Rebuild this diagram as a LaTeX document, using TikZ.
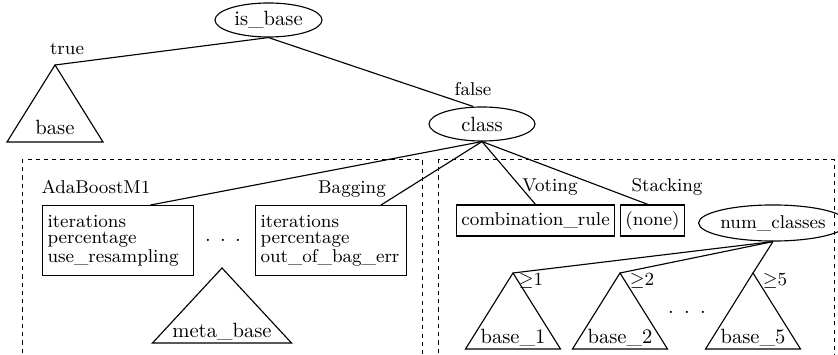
\documentclass[tikz,border=0pt]{standalone}
\usetikzlibrary{shapes.geometric,calc}
\begin{document}
\begin{tikzpicture}[x=0.485pt,y=-0.485pt,
  line width=0.55pt,
  lbl/.style={font=\small, inner sep=0pt, anchor=base},
  ell/.style={draw, ellipse, inner sep=0pt},
  parbox/.style={draw, rectangle, font=\fontsize{9}{7.6}\selectfont, align=left,
    inner xsep=2.4pt, inner ysep=0pt, text width=68.4pt, minimum height=34pt, anchor=north west},
  leafbox/.style={draw, rectangle, font=\small, inner xsep=2.5pt, inner ysep=0pt, minimum height=15pt},
  trilabel/.style={inner sep=0pt, anchor=base},
  region/.style={dash pattern=on 2pt off 2pt, line width=0.45pt}
]
\useasboundingbox (0,0) rectangle (838,355);
\clip (0,0) rectangle (838,355);

% dashed regions for the meta and ensemble learners
\draw[region] (22,159) rectangle (422,370);
\draw[region] (438,159) rectangle (834,370);

% top-level decision
\node[ell, minimum width=51.9pt, minimum height=16.5pt] (isbase) at (268.5,20) {is\_base};
\node[ell, minimum width=51.4pt, minimum height=16.5pt] (class) at (482,124) {class};

% base learner subtree
\coordinate (tb) at (55,65);
\draw (tb) -- ($(tb)+(-48,77)$) -- ($(tb)+(48,77)$) -- cycle;
\node[trilabel] (baselbl) at (55,135) {base};

\draw (isbase.south) -- (tb);
\draw (isbase.south) -- ($(class.north)+(-9,0)$);
\node[lbl] (ltrue) at (67,55) {true};
\node[lbl] (lfalse) at (473,96) {false};

% meta learners
\node[parbox] (ada) at (42,205) {iterations\\percentage\\use\_resampling};
\node[parbox] (bag) at (255,205) {iterations\\percentage\\out\_of\_bag\_err};
\node[lbl] (lada) at (96,193) {AdaBoostM1};
\node[lbl] (lbag) at (352,193) {Bagging};
\node[inner sep=0pt, anchor=base] (mdots) at (223,242) {.\hspace{4.5pt}.\hspace{4.5pt}.};

\coordinate (tm) at (222,268);
\draw (tm) -- ($(tm)+(-69.5,75)$) -- ($(tm)+(69.5,75)$) -- cycle;
\node[trilabel] (metalbl) at (222,337) {meta\_base};

% ensemble learners
\node[leafbox, minimum width=76.1pt] (comb) at (535.5,220.5) {combination\_rule};
\node[leafbox, minimum width=28.6pt] (none) at (652.5,220.5) {(none)};
\node[lbl] (lvote) at (550,192) {Voting};
\node[lbl] (lstack) at (667,192) {Stacking};

\draw (class.south) -- ($(ada.north)+(32.5,0)$);
\draw (class.south) -- ($(bag.north)+(50,0)$);
\draw (class.south) -- (comb.north);
\draw (class.south) -- ($(none.north)+(-4.5,0)$);

% stacking: base learner per number of classes
\node[ell, font=\small, minimum width=57.2pt, minimum height=17.5pt] (numc) at (773,223) {num\_classes};

\coordinate (t1) at (513,273);
\coordinate (t2) at (620,273);
\coordinate (t5) at (753,273);
\foreach \t in {t1,t2,t5}
  \draw (\t) -- ($(\t)+(-47.5,76)$) -- ($(\t)+(47.5,76)$) -- cycle;
\node[trilabel] (b1) at (513,343) {base\_1};
\node[trilabel] (b2) at (620,343) {base\_2};
\node[trilabel] (b5) at (753,343) {base\_5};
\node[inner sep=0pt, anchor=base] (rdots) at (687,313) {.\hspace{5pt}.\hspace{5pt}.};

\draw (numc.south) -- (t1);
\draw (numc.south) -- (t2);
\draw (numc.south) -- (t5);
\node[lbl] (g1) at (531,285) {$\geq$1};
\node[lbl] (g2) at (642,285) {$\geq$2};
\node[lbl] (g5) at (775,285) {$\geq$5};
\end{tikzpicture}
\end{document}
